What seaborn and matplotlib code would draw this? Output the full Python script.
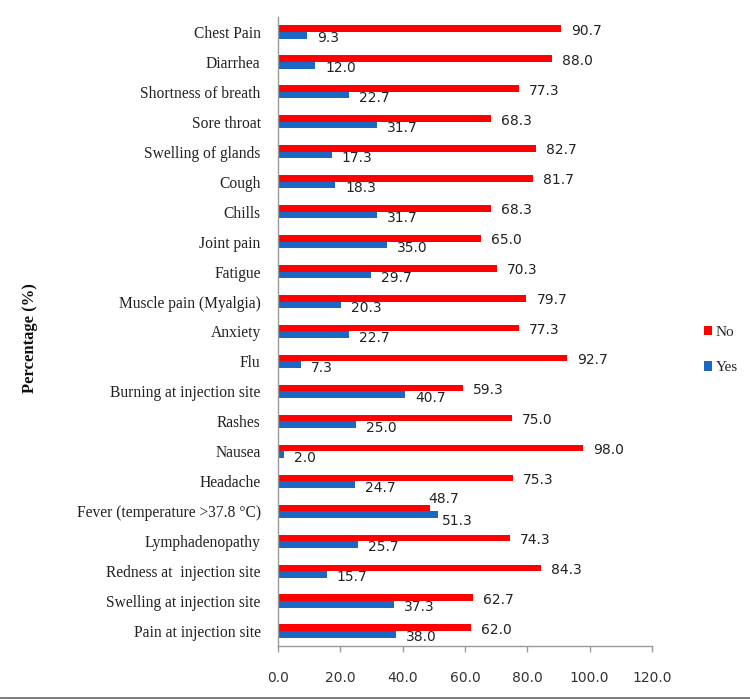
import matplotlib
matplotlib.use("Agg")
import matplotlib.pyplot as plt
import seaborn as sns
import pandas as pd
from matplotlib.lines import Line2D
from matplotlib.patches import Patch

categories = [
    "Chest Pain", "Diarrhea", "Shortness of breath", "Sore throat",
    "Swelling of glands", "Cough", "Chills", "Joint pain", "Fatigue",
    "Muscle pain (Myalgia)", "Anxiety", "Flu", "Burning at injection site",
    "Rashes", "Nausea", "Headache", "Fever (temperature >37.8 \u00b0C)",
    "Lymphadenopathy", "Redness at  injection site",
    "Swelling at injection site", "Pain at injection site",
]
no_values = [90.7, 88.0, 77.3, 68.3, 82.7, 81.7, 68.3, 65.0, 70.3, 79.7,
             77.3, 92.7, 59.3, 75.0, 98.0, 75.3, 48.7, 74.3, 84.3, 62.7, 62.0]
yes_values = [9.3, 12.0, 22.7, 31.7, 17.3, 18.3, 31.7, 35.0, 29.7, 20.3,
              22.7, 7.3, 40.7, 25.0, 2.0, 24.7, 51.3, 25.7, 15.7, 37.3, 38.0]
series = ["No", "Yes"]
colors = {"No": "#FF0000", "Yes": "#1B67C4"}
xticks = [0, 20, 40, 60, 80, 100, 120]

df = pd.DataFrame({
    "Symptom": categories * 2,
    "Percent": no_values + yes_values,
    "Response": ["No"] * len(categories) + ["Yes"] * len(categories),
})

sns.set_style("white")
fig = plt.figure(figsize=(7.5, 6.99), dpi=100)
ax = fig.add_axes([278 / 750, 1 - 646 / 699, (652 - 278) / 750, (646 - 17) / 699])

sns.barplot(data=df, y="Symptom", x="Percent", hue="Response", hue_order=series,
            palette=colors, orient="h", width=0.44, ax=ax, legend=False,
            edgecolor="none", saturation=1)

ax.set_xlim(0, 120)
ax.set_ylim(len(categories) - 0.5, -0.5)
ax.set_xticks(xticks)
ax.set_xticklabels([f"{v:.1f}" for v in xticks], fontfamily="DejaVu Sans", fontsize=10, color="#333333")
ax.tick_params(axis="x", length=4, width=1, color="#999999", pad=14, direction="out", bottom=True)
ax.tick_params(axis="y", length=0, pad=12.5)
for lab in ax.get_yticklabels():
    lab.set_fontfamily("Liberation Serif")
    lab.set_fontsize(11.2)
    lab.set_color("#222222")
ax.set_xlabel("")
ax.set_ylabel("")
for s in ["top", "right"]:
    ax.spines[s].set_visible(False)
for s in ["left", "bottom"]:
    ax.spines[s].set_color("#999999")
    ax.spines[s].set_linewidth(1)

# value labels (offsets in pixels: right, up)
for i, cont in enumerate(ax.containers):
    vals = no_values if i == 0 else yes_values
    others = yes_values if i == 0 else no_values
    for bar, v, o in zip(cont.patches, vals, others):
        y = bar.get_y() + bar.get_height() / 2
        dx, up = 10, (-2 if i == 0 else -3)
        if abs(v - o) < 10:
            if i == 0:
                dx, up = -1, 9
            else:
                dx, up = 4, -6
        ax.annotate(f"{v:.1f}", xy=(bar.get_width(), y), xytext=(dx, up),
                    textcoords="offset pixels", ha="left", va="center",
                    fontfamily="DejaVu Sans", fontsize=10, color="#222222",
                    annotation_clip=False)

fig.text(30 / 750, 1 - 338 / 699, "Percentage (%)", rotation=90, ha="center", va="center",
         fontfamily="Liberation Serif", fontweight="bold", fontsize=12, color="#111111")

handles = [Patch(facecolor=colors[s], edgecolor="none") for s in series]
leg = fig.legend(handles, series, loc="center left", bbox_to_anchor=(690 / 750, 1 - 350 / 699),
                 frameon=False, handlelength=0.55, handleheight=0.55, handletextpad=0.25,
                 labelspacing=1.5, prop={"family": "Liberation Serif", "size": 11})

fig.add_artist(Line2D([0, 1], [1 - 698 / 699, 1 - 698 / 699], transform=fig.transFigure,
                      color="#777777", linewidth=2))

fig.savefig("out.png", dpi=100)
